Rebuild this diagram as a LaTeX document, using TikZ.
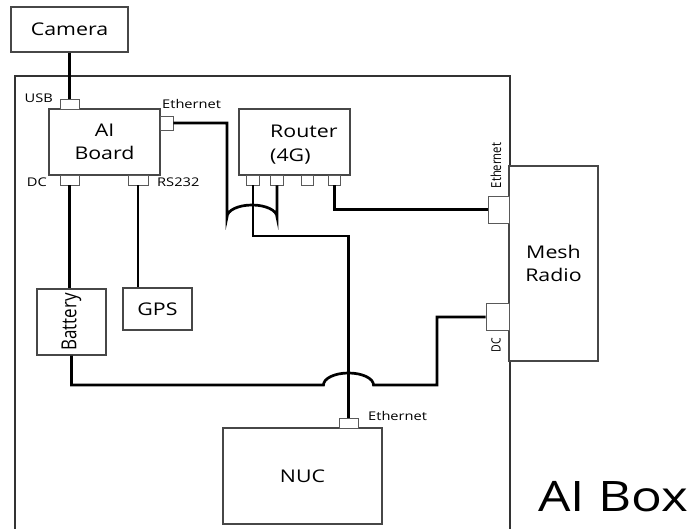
\documentclass[tikz,border=0pt]{standalone}
\usepackage{fontspec}
\setmainfont{Open Sans}[FakeStretch=1.22]
\newfontfamily\rotfont{Open Sans}
\usepackage{graphicx}
\begin{document}
\begin{tikzpicture}[x=1pt,y=-1pt,
  box/.style={draw=black!72, line width=1.2pt, fill=white, inner sep=0pt, align=center,
    font=\fontsize{17.5}{22.7}\selectfont},
  port/.style={draw=black!65, line width=0.9pt, fill=white, inner sep=0pt},
  wire/.style={line width=2.7pt, black},
  small/.style={font=\fontsize{12}{13}\selectfont, inner sep=0pt},
  big/.style={font=\fontsize{17.5}{22.7}\selectfont, inner sep=0pt}]
\clip (0,0) rectangle (694,529);
\fill[white] (0,0) rectangle (694,529);
% outer AI box
\node[draw=black!80, line width=1.6pt, inner sep=0pt, minimum width=495pt, minimum height=470pt, anchor=north west] (aibox) at (14,75) {};
% boxes
\node[box, minimum width=117pt, minimum height=45pt] (cam) at (69.5,29.5) {Camera};
\node[box, minimum width=111pt, minimum height=66pt] (board) at (104.5,142) {AI\\Board};
\node[box, minimum width=111pt, minimum height=66pt] (router) at (294.5,142) {};
\node[big, anchor=base west] (rtext1) at (270,137.7) {Router};
\node[big, anchor=base west] (rtext2) at (270,161.7) {(4G)};
\node[box, minimum width=89pt, minimum height=195pt] (mesh) at (553.5,263.5) {Mesh\\Radio};
\node[box, minimum width=69pt, minimum height=66pt] (batt) at (71.5,322)
  {\rotatebox{90}{\scalebox{1}[1.22]{\rotfont\fontsize{17}{20}\selectfont Battery}}};
\node[box, minimum width=69pt, minimum height=42pt] (gps) at (157.5,309) {GPS};
\node[box, minimum width=159pt, minimum height=96pt] (nuc) at (302.5,476) {NUC};
% ports
\node[port, minimum width=19pt, minimum height=10pt] (usb) at (69.5,104) {};
\node[port, minimum width=13pt, minimum height=14pt] (aieth) at (166.5,123) {};
\node[port, minimum width=19pt, minimum height=10pt] (dc) at (69.5,180) {};
\node[port, minimum width=20pt, minimum height=10pt] (rs) at (138,180) {};
\node[port, minimum width=13pt, minimum height=10pt] (rp1) at (253,180) {};
\node[port, minimum width=13pt, minimum height=10pt] (rp2) at (277,180) {};
\node[port, minimum width=12pt, minimum height=10pt] (rp3) at (307.5,180) {};
\node[port, minimum width=12pt, minimum height=10pt] (rp4) at (334.5,180) {};
\node[port, minimum width=21pt, minimum height=27pt] (mesheth) at (498.5,209.5) {};
\node[port, minimum width=23pt, minimum height=27pt] (meshdc) at (497.5,317) {};
\node[port, minimum width=19pt, minimum height=10pt] (nuceth) at (348.5,423) {};
% labels
\node[small, anchor=base east] (usbl) at (53,102.7) {USB};
\node[small, anchor=base west] (ethl) at (162,108.3) {Ethernet};
\node[small, anchor=base east] (dcl) at (47,186.5) {DC};
\node[small, anchor=base west] (rsl) at (157,186.5) {RS232};
\node[small, anchor=base west] (nucethl) at (368,420.7) {Ethernet};
\node[inner sep=0pt] (meshethl) at (496,165.5)
  {\rotatebox{90}{\scalebox{1}[1.22]{\rotfont\fontsize{11.3}{13}\selectfont Ethernet}}};
\node[inner sep=0pt] (meshdcl) at (496,345.5)
  {\rotatebox{90}{\scalebox{1}[1.22]{\rotfont\fontsize{10.5}{12}\selectfont DC}}};
\node[inner sep=0pt, anchor=base west, font=\fontsize{42}{46}\selectfont] (title) at (538,511.7) {AI Box};
% connector coordinates
\coordinate (h1a) at (227,217);
\coordinate (k3) at (348.5,236);
\coordinate (h2a) at (323.5,385);
\coordinate (k6) at (437,385);
% wires
\draw[wire] (cam.south) -- (usb.north);
\draw[wire] (aieth.east) -| (h1a) arc[start angle=180, end angle=0, x radius=25pt, y radius=12pt] -- (rp2.south);
\draw[wire] (rp1.south) |- (k3) -- (nuceth.north);
\draw[wire] (rp4.south) |- (mesheth.west);
\draw[wire] (dc.south) -- (dc.south |- batt.north);
\draw[wire] (rs.south) -- (rs.south |- gps.north);
\draw[wire] (batt.south) |- (h2a) arc[start angle=180, end angle=0, x radius=25pt, y radius=12pt] -- (k6) |- (meshdc.west);
\end{tikzpicture}
\end{document}
